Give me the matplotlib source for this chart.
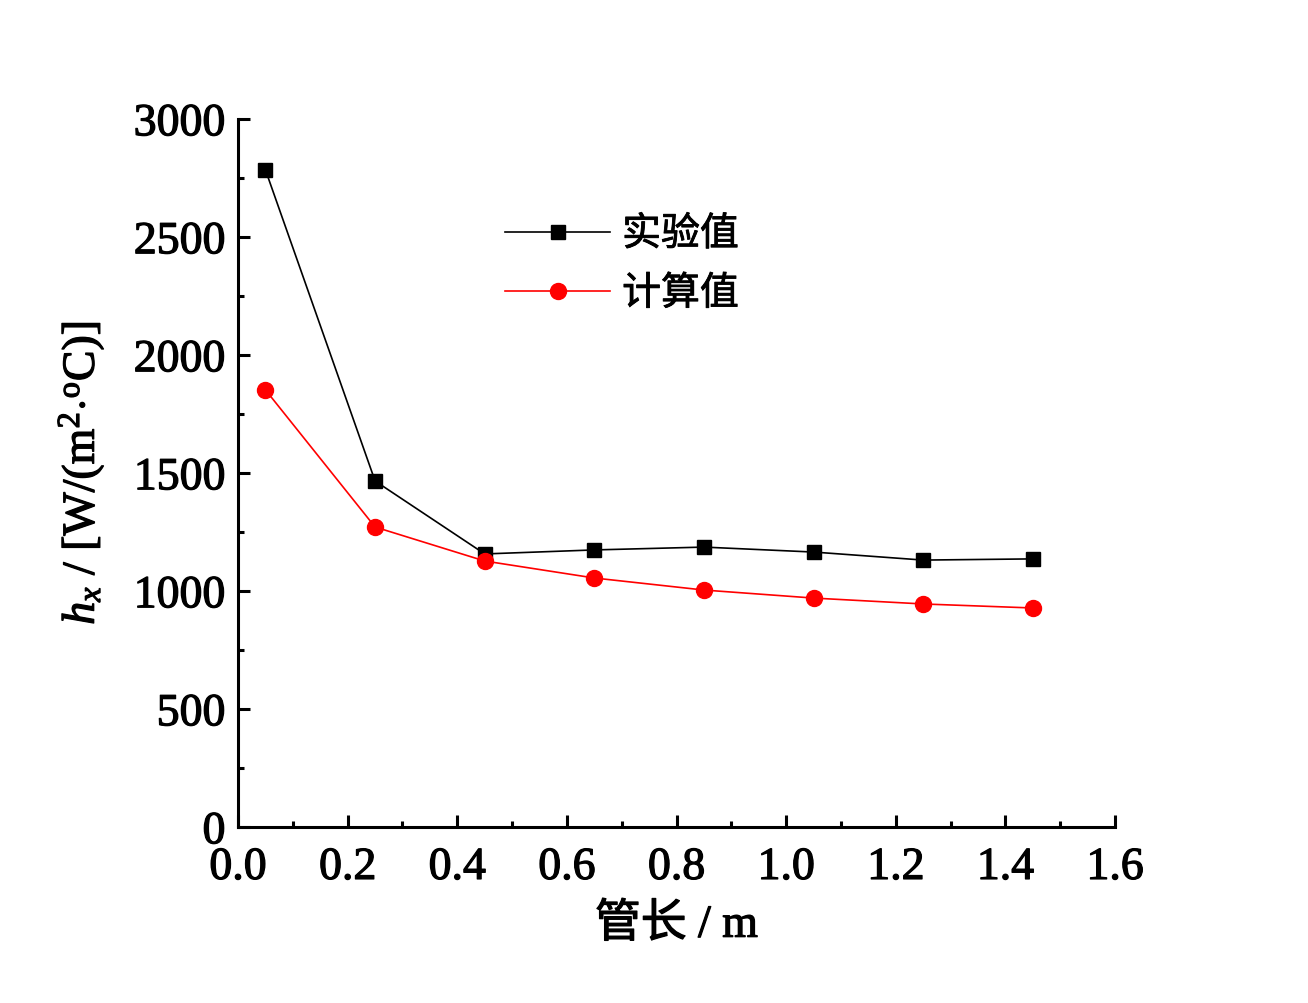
import matplotlib
matplotlib.use('Agg')
import matplotlib.pyplot as plt
import matplotlib.patheffects as pe
from matplotlib.ticker import MultipleLocator

# data
x = [0.05, 0.25, 0.45, 0.65, 0.85, 1.05, 1.25, 1.45]
exp_vals = [2784, 1466, 1157, 1174, 1186, 1165, 1131, 1136]
calc_vals = [1852, 1271, 1127, 1055, 1004, 970, 945, 928]
labels = ['实验值', '计算值']

plt.rcParams['font.family'] = ['Liberation Serif', 'Noto Sans CJK SC']
plt.rcParams['mathtext.fontset'] = 'custom'
plt.rcParams['mathtext.rm'] = 'Liberation Serif'
plt.rcParams['mathtext.it'] = 'Liberation Serif:italic'

# slight stroke so the text looks as heavy as the (aliased) original
thick = [pe.withStroke(linewidth=0.9, foreground='black')]

fig = plt.figure(figsize=(13.08, 10.04), dpi=100)
ax = fig.add_axes([0.182, 0.1753, 0.6705, 0.7052])

ax.plot(x, exp_vals, color='black', lw=1.2, marker='s', ms=10, label=labels[0])
ax.plot(x, calc_vals, color='red', lw=1.2, marker='o', ms=11.5, label=labels[1])

ax.set_xlim(0.0, 1.6)
ax.set_ylim(0, 3000)
ax.xaxis.set_major_locator(MultipleLocator(0.2))
ax.xaxis.set_minor_locator(MultipleLocator(0.1))
ax.yaxis.set_major_locator(MultipleLocator(500))
ax.yaxis.set_minor_locator(MultipleLocator(250))

ax.spines['top'].set_visible(False)
ax.spines['right'].set_visible(False)
for s in ['left', 'bottom']:
    ax.spines[s].set_linewidth(2.2)
ax.tick_params(which='major', direction='in', length=8.5, width=2.2, labelsize=33)
ax.tick_params(which='minor', direction='in', length=4.5, width=2.2)
ax.tick_params(axis='x', pad=14)
ax.tick_params(axis='y', pad=9)

xl = ax.set_xlabel('管长 / m', fontsize=33, labelpad=11)
yl = ax.set_ylabel(r'$h_x$ / [W/(m$^2$$\cdot$$^{\mathrm{o}}$C)]', fontsize=33, labelpad=20)

leg = ax.legend(loc='upper left', bbox_to_anchor=(0.265, 0.915), frameon=False,
                prop={'family': 'Noto Sans CJK SC', 'size': 28},
                handlelength=2.7, handletextpad=0.3, labelspacing=0.5)

for t in ax.get_xticklabels() + ax.get_yticklabels() + [xl, yl]:
    t.set_path_effects(thick)
for t in leg.get_texts():
    t.set_path_effects([pe.withStroke(linewidth=0.6, foreground='black')])

fig.savefig('out.png', dpi=100)
